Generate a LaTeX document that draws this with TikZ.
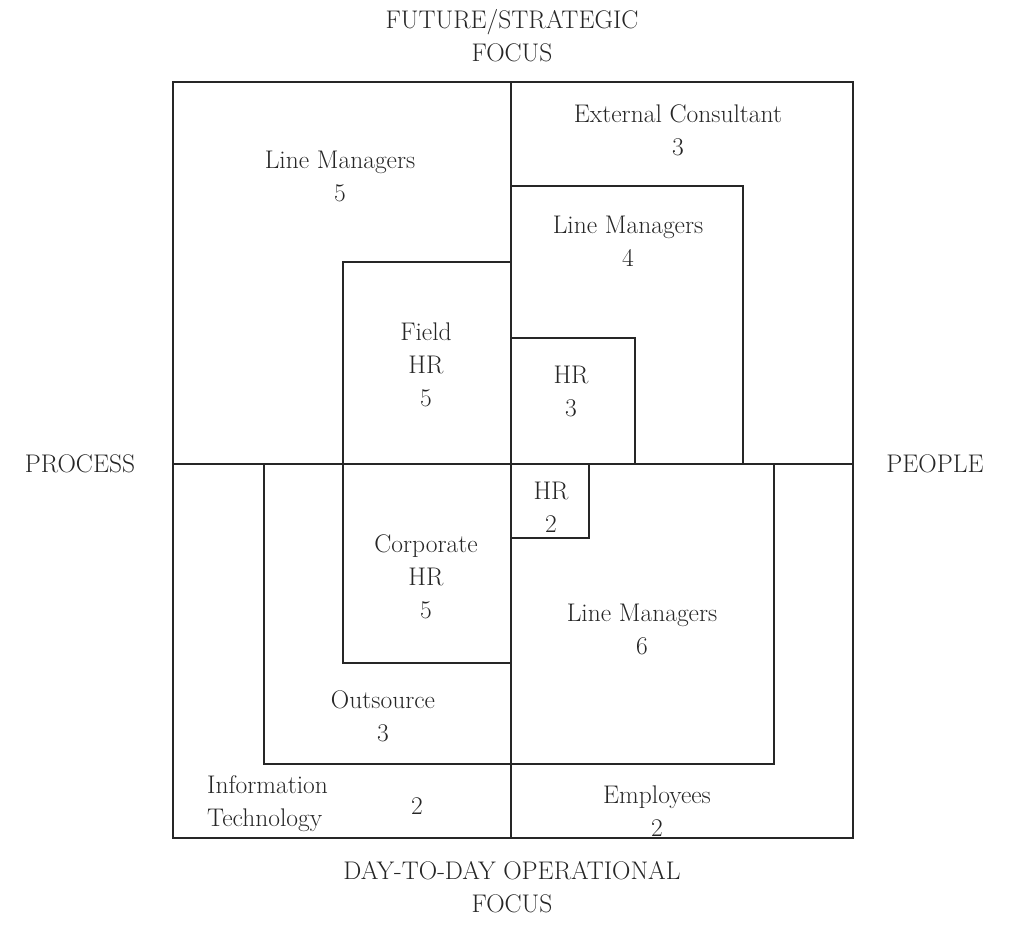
\documentclass[tikz,border=0pt]{standalone}
\usepackage{fontspec}
\begin{document}
\begin{tikzpicture}[x=1pt,y=-1pt,
  box/.style={draw=black!85,line width=1.3pt},
  lbl/.style={text=black!85,align=center,inner sep=0pt,font=\fontsize{25.5}{33}\selectfont}]
\useasboundingbox (0,0) rectangle (1012,929);
% frame and quadrants
\draw[box] (173,82) rectangle (853,838);
\draw[box] (511,82) -- (511,838);
\draw[box] (173,464) -- (853,464);
% inner boxes
\draw[box] (511,186) rectangle (743,464);
\draw[box] (343,262) rectangle (511,663);
\draw[box] (511,338) rectangle (635,464);
\draw[box] (511,464) rectangle (589,538);
\draw[box] (511,464) rectangle (774,764);
\draw[box] (264,464) rectangle (511,764);
% axis labels
\node[lbl] (top) at (512,36) {FUTURE/STRATEGIC\\FOCUS};
\node[lbl] (bot) at (512,887) {DAY-TO-DAY OPERATIONAL\\FOCUS};
\node[lbl] (proc) at (80,464) {PROCESS};
\node[lbl] (peop) at (935,464) {PEOPLE};
% box labels
\node[lbl] (lm5) at (340,176) {Line Managers\\5};
\node[lbl] (ext) at (678,130) {External Consultant\\3};
\node[lbl] (lm4) at (628,241) {Line Managers\\4};
\node[lbl] (fhr) at (426,365) {Field\\HR\\5};
\node[lbl] (hr3) at (571,391) {HR\\3};
\node[lbl] (hr2) at (551,507) {HR\\2};
\node[lbl] (chr) at (426,577) {Corporate\\HR\\5};
\node[lbl] (out) at (383,716) {Outsource\\3};
\node[lbl,align=left,anchor=west] (it) at (207,804) {Information\\Technology};
\node[lbl] (it2) at (417,806) {2};
\node[lbl] (lm6) at (642,629) {Line Managers\\6};
\node[lbl] (emp) at (657,811) {Employees\\2};
\end{tikzpicture}
\end{document}
